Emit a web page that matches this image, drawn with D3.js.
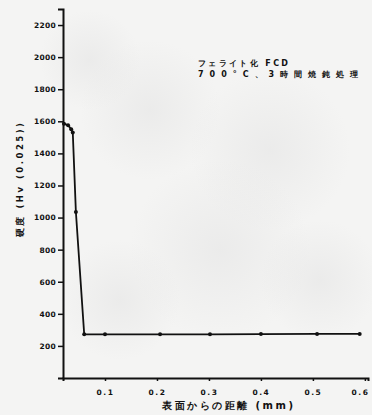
<!DOCTYPE html>
<html><head><meta charset="utf-8">
<script src="https://cdn.jsdelivr.net/npm/d3@7/dist/d3.min.js"></script>
<style>
html,body{margin:0;padding:0;background:#f1f1f0;}
svg{display:block;}
text{font-family:"DejaVu Sans",sans-serif;font-weight:bold;fill:#111;}
</style></head><body>
<svg id="c" width="372" height="415"></svg>
<script>
// data
const distance = [0.021, 0.029, 0.035, 0.038, 0.044, 0.060, 0.100, 0.206, 0.302, 0.400, 0.508, 0.590];
const hardness = [1585, 1575, 1550, 1530, 1035, 272, 272, 272, 272, 274, 275, 275];
const yTicks = [200, 400, 600, 800, 1000, 1200, 1400, 1600, 1800, 2000, 2200];
const xTicks = [0.1, 0.2, 0.3, 0.4, 0.5, 0.6];
const xTickLabels = ["0.1", "0.2", "0.3", "0.4", "0.5", "0.6"];
const yTitle = "硬度 (Hv (0.025))";
const xTitle = "表面からの距離 (mm)";
const note = ["フェライト化 FCD", "700°C、3時間焼鈍処理"];

const svg = d3.select("#c");
const defs = svg.append("defs");
const g1 = defs.append("radialGradient").attr("id","blot");
g1.append("stop").attr("offset","0%").attr("stop-color","#e0e0e0").attr("stop-opacity",0.45);
g1.append("stop").attr("offset","100%").attr("stop-color","#e0e0e0").attr("stop-opacity",0);
svg.append("rect").attr("width",372).attr("height",415).attr("fill","#f4f4f3");
[[150,110,70],[270,150,80],[220,250,90],[120,300,60],[320,280,60],[90,60,50]].forEach(b=>{
  svg.append("circle").attr("cx",b[0]).attr("cy",b[1]).attr("r",b[2]).attr("fill","url(#blot)");
});

const x = d3.scaleLinear().domain([0.0192, 0.606]).range([63, 368]);
const y = d3.scaleLinear().domain([0, 2300]).range([378, 9]);

// y axis
const ya = svg.append("g").attr("transform","translate(63,0)")
  .call(d3.axisLeft(y).tickValues(yTicks).tickSize(5).tickPadding(2).tickFormat(d3.format("d")));
ya.select(".domain").attr("stroke","#111").attr("stroke-width",2);
ya.selectAll(".tick line").attr("stroke","#111").attr("stroke-width",1.5);
ya.selectAll(".tick text").style("font-size","7.5px").style("letter-spacing","0.3px").attr("fill","#111");

// x axis
const xa = svg.append("g").attr("transform","translate(0,378)")
  .call(d3.axisBottom(x).tickValues(xTicks).tickSize(3).tickPadding(9).tickFormat((d,i)=>xTickLabels[i]));
xa.select(".domain").attr("stroke","#111").attr("stroke-width",2);
xa.selectAll(".tick line").attr("stroke","#111").attr("stroke-width",1.5);
xa.selectAll(".tick text").style("font-size","7.5px").style("letter-spacing","1.5px").attr("fill","#111");
xa.selectAll(".tick text").filter((d,i)=>i===xTicks.length-1).attr("text-anchor","end").attr("dx","4");

// line
const pts = distance.map((d,i)=>[d, hardness[i]]);
svg.append("path").datum(pts)
  .attr("d", d3.line().x(d=>x(d[0])).y(d=>y(d[1])))
  .attr("fill","none").attr("stroke","#111").attr("stroke-width",1.8);
svg.selectAll("circle.pt").data(pts).enter().append("circle").attr("class","pt")
  .attr("cx",d=>x(d[0])).attr("cy",d=>y(d[1])).attr("r",2).attr("fill","#111");

// titles
svg.append("text").attr("transform","translate(23,180) rotate(-90)")
  .attr("text-anchor","middle").style("font-size","8.5px")
  .attr("textLength",114).attr("lengthAdjust","spacing").text(yTitle);
svg.append("text").attr("x",162).attr("y",409)
  .style("font-size","10px").attr("textLength",131).attr("lengthAdjust","spacing").text(xTitle);

svg.append("text").attr("x",198).attr("y",66).style("font-size","8px")
  .attr("textLength",90).attr("lengthAdjust","spacing").text(note[0]);
svg.append("text").attr("x",198).attr("y",77).style("font-size","8px")
  .attr("textLength",160).attr("lengthAdjust","spacing").text(note[1]);
</script>
</body></html>
